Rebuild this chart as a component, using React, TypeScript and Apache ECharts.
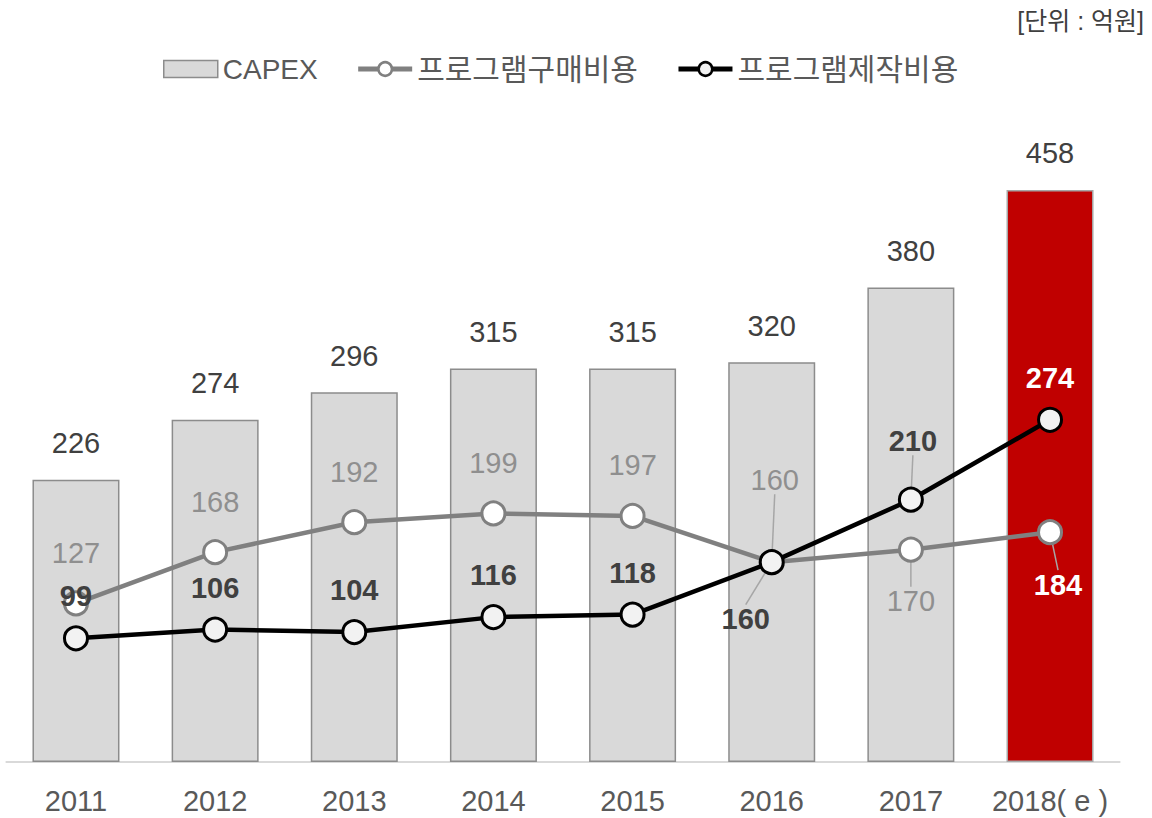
import React, { useEffect, useRef } from 'react';
import * as echarts from 'echarts';

const years = ['2011', '2012', '2013', '2014', '2015', '2016', '2017', '2018( e )'];
const capex = [226, 274, 296, 315, 315, 320, 380, 458];
const purchase = [127, 168, 192, 199, 197, 160, 170, 184];
const production = [99, 106, 104, 116, 118, 160, 210, 274];
const seriesNames = ['CAPEX', '프로그램구매비용', '프로그램제작비용'];
const unitLabel = '[단위 : 억원]';
const estimateIndex = 7;

// label nudges (dx, dy) for labels that get a leader line
const purchaseShift: Record<number, [number, number]> = { 5: [3, -32], 6: [0, 102], 7: [8, 103] };
const productionShift: Record<number, [number, number]> = { 5: [-26, 99], 6: [2, -17] };

const FONT = "'Liberation Sans', Arial, 'Noto Sans CJK KR', sans-serif";

export default function App() {
  const ref = useRef<HTMLDivElement>(null);

  useEffect(() => {
    if (!ref.current) return;
    const chart = echarts.init(ref.current, undefined, { renderer: 'svg' });

    const barData = capex.map((v, i) =>
      i === estimateIndex
        ? { value: v, itemStyle: { color: '#c00000', borderColor: '#a6a6a6' } }
        : v
    );

    const lineData = (arr: number[], shift: Record<number, [number, number]>) =>
      arr.map((v, i) => {
        const item: any = { value: v, labelLine: { show: shift[i] != null } };
        if (i === estimateIndex) item.label = { color: '#ffffff', fontWeight: 'bold' };
        return item;
      });

    const layoutFor = (shift: Record<number, [number, number]>) => (p: any) => {
      const s = shift[p.dataIndex];
      return s ? { dx: s[0], dy: s[1] } : {};
    };

    const labelLineCommon = {
      show: false,
      length2: 0,
      lineStyle: { color: '#a6a6a6', width: 1.5 },
    };

    chart.setOption({
      animation: false,
      textStyle: { fontFamily: FONT },
      title: {
        text: unitLabel,
        right: 3,
        top: 3,
        textStyle: { fontFamily: FONT, fontSize: 25, fontWeight: 'normal', color: '#404040' },
      },
      legend: {
        left: 158,
        top: 49,
        itemGap: 38,
        itemWidth: 54,
        itemHeight: 17,
        data: [
          {
            name: seriesNames[0],
            icon: 'rect',
            itemStyle: { color: '#d9d9d9', borderColor: '#8c8c8c', borderWidth: 1.5 },
          },
          {
            name: seriesNames[1],
            lineStyle: { color: '#808080', width: 5 },
            itemStyle: { color: '#ffffff', borderColor: '#808080', borderWidth: 2.5 },
          },
          {
            name: seriesNames[2],
            lineStyle: { color: '#000000', width: 5 },
            itemStyle: { color: '#f2f2f2', borderColor: '#000000', borderWidth: 2.5 },
          },
        ],
        formatter: (name: string) => (name === seriesNames[0] ? `{a|${name}}` : `{k|${name}}`),
        textStyle: {
          fontFamily: FONT,
          fontSize: 28,
          color: '#595959',
          rich: {
            a: { fontFamily: FONT, fontSize: 28, color: '#595959' },
            k: { fontFamily: FONT, fontSize: 30, color: '#595959' },
          },
        },
      },
      grid: { left: 6.4, right: 32.4, top: 137.5, bottom: 56, containLabel: false },
      xAxis: {
        type: 'category',
        data: years,
        axisLine: { show: true, lineStyle: { color: '#d9d9d9', width: 2 } },
        axisTick: { show: false },
        axisLabel: { interval: 0, margin: 24, fontSize: 29, color: '#595959', fontFamily: FONT },
      },
      yAxis: {
        type: 'value',
        min: 0,
        max: 500,
        show: false,
        splitLine: { show: false },
      },
      series: [
        {
          name: seriesNames[0],
          type: 'bar',
          data: barData,
          barWidth: 87,
          itemStyle: { color: '#d9d9d9', borderColor: '#8c8c8c', borderWidth: 1.5 },
          label: {
            show: true,
            position: 'top',
            distance: 22,
            fontSize: 29,
            color: '#404040',
            fontFamily: FONT,
          },
          z: 1,
        },
        {
          name: seriesNames[1],
          type: 'line',
          data: lineData(purchase, purchaseShift),
          symbol: 'circle',
          symbolSize: 23,
          showAllSymbol: true,
          lineStyle: { color: '#808080', width: 4.5 },
          itemStyle: { color: '#ffffff', borderColor: '#808080', borderWidth: 3 },
          label: {
            show: true,
            position: 'top',
            distance: 23,
            fontSize: 29,
            color: '#8f8f8f',
            fontFamily: FONT,
          },
          labelLine: labelLineCommon,
          labelLayout: layoutFor(purchaseShift),
          z: 2,
        },
        {
          name: seriesNames[2],
          type: 'line',
          data: lineData(production, productionShift),
          symbol: 'circle',
          symbolSize: 23,
          showAllSymbol: true,
          lineStyle: { color: '#000000', width: 4.5 },
          itemStyle: { color: '#f2f2f2', borderColor: '#000000', borderWidth: 3 },
          label: {
            show: true,
            position: 'top',
            distance: 14.5,
            fontSize: 29,
            fontWeight: 'bold',
            color: '#404040',
            fontFamily: FONT,
          },
          labelLine: labelLineCommon,
          labelLayout: layoutFor(productionShift),
          z: 3,
        },
      ],
    });

    return () => chart.dispose();
  }, []);

  return (
    <div
      ref={ref}
      style={{ position: 'fixed', left: 0, top: 0, width: 1152, height: 818, background: '#ffffff' }}
    />
  );
}
